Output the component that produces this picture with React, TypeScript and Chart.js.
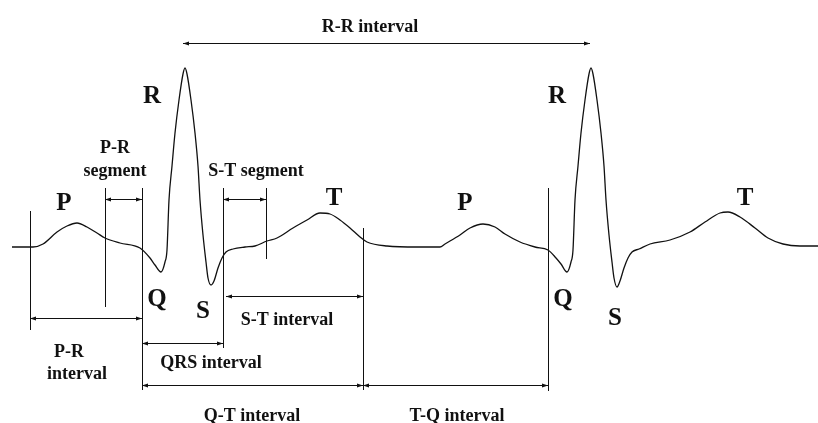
import { useEffect, useRef } from "react";
import { Chart, registerables } from "chart.js";

Chart.register(...registerables);

// ECG trace: time (arbitrary units) and amplitude (arbitrary units, 0 = baseline)
const traceTime = [
  12, 33, 43, 57, 67, 77, 87, 97, 105, 120, 140, 150, 155, 161, 165, 167, 169, 172, 175, 179, 183, 185, 187, 191, 195, 198, 200, 203, 206, 208, 211, 214, 218, 222, 226, 233, 245, 255, 267, 277, 293, 307, 320, 330, 340, 350, 360, 367, 387, 417,
  440, 445, 460, 470, 483, 495, 505, 520, 535, 548, 556, 561, 567, 571, 573, 575, 578, 581, 585, 589, 591, 593, 597, 601, 604, 606, 609, 612, 614, 617, 620, 624, 628, 632, 639, 650, 670, 690, 705, 720, 728, 740, 755, 768, 783, 800, 818,
];
const traceAmp = [
  -1, -1, 2, 14, 20, 23, 19, 13, 8, 3, -2, -12, -19, -26, -16, -4, 46, 80, 113, 146, 172, 178, 172, 146, 113, 80, 46, 11, -16, -32, -39, -35, -22, -12, -6, -3, -1, 0, 5, 8, 18, 26, 33, 32, 26, 18, 9, 4, 0, -1,
  -1, 2, 11, 18, 22, 19, 12, 4, -1, -4, -12, -18, -26, -16, -4, 46, 80, 113, 146, 172, 178, 172, 146, 113, 80, 46, 11, -16, -32, -41, -35, -22, -12, -6, -3, 2, 6, 14, 24, 33, 34, 29, 18, 8, 2, 0, 0,
];

// vertical guide lines: time, top and bottom amplitude
const guideTime = [30, 105, 142, 223, 266, 363, 548];
const guideTop = [35, 58, 58, 58, 58, 18, 58];
const guideBottom = [-84, -61, -144, -102, -13, -144, -145];

// interval arrows: start time, end time, amplitude level
const arrowStart = [183, 105, 223, 226, 30, 142, 142, 363];
const arrowEnd = [590, 142, 266, 363, 142, 223, 363, 548];
const arrowLevel = [203, 47, 47, -50, -72, -97, -139, -139];

// labels: text, centre time, baseline amplitude, kind (wave letter or note)
const labelText = [
  "R-R interval", "R", "P-R", "segment", "P", "S-T segment", "T", "Q", "S", "S-T interval",
  "P-R", "interval", "QRS interval", "Q-T interval", "T-Q interval", "R", "P", "T", "Q", "S",
];
const labelTime = [370, 152, 115, 115, 64, 256, 334, 157, 203, 287, 69, 77, 211, 252, 457, 557, 465, 745, 563, 615];
const labelAmp = [214, 143, 93, 70, 36, 70, 41, -60, -72, -79, -111, -133, -122, -175, -175, 143, 36, 41, -60, -79];
const labelWave = [false, true, false, false, true, false, true, true, true, false, false, false, false, false, false, true, true, true, true, true];

const annotations = {
  id: "ecgAnnotations",
  afterDatasetsDraw(chart: any) {
    const { ctx, scales } = chart;
    const xs = scales.x;
    const ys = scales.y;
    ctx.save();
    ctx.strokeStyle = "#111";
    ctx.fillStyle = "#111";
    ctx.lineWidth = 1;
    for (let i = 0; i < guideTime.length; i++) {
      const x = Math.round(xs.getPixelForValue(guideTime[i])) + 0.5;
      ctx.beginPath();
      ctx.moveTo(x, ys.getPixelForValue(guideTop[i]));
      ctx.lineTo(x, ys.getPixelForValue(guideBottom[i]));
      ctx.stroke();
    }
    for (let i = 0; i < arrowStart.length; i++) {
      const x1 = xs.getPixelForValue(arrowStart[i]);
      const x2 = xs.getPixelForValue(arrowEnd[i]);
      const y = Math.round(ys.getPixelForValue(arrowLevel[i])) + 0.5;
      ctx.beginPath();
      ctx.moveTo(x1, y);
      ctx.lineTo(x2, y);
      ctx.stroke();
      const head = 6;
      ctx.beginPath();
      ctx.moveTo(x1, y);
      ctx.lineTo(x1 + head, y - 2);
      ctx.lineTo(x1 + head, y + 2);
      ctx.closePath();
      ctx.fill();
      ctx.beginPath();
      ctx.moveTo(x2, y);
      ctx.lineTo(x2 - head, y - 2);
      ctx.lineTo(x2 - head, y + 2);
      ctx.closePath();
      ctx.fill();
    }
    ctx.textAlign = "center";
    ctx.textBaseline = "alphabetic";
    for (let i = 0; i < labelText.length; i++) {
      ctx.font = labelWave[i]
        ? "bold 25px 'Liberation Serif', serif"
        : "bold 18px 'Liberation Serif', serif";
      ctx.fillText(labelText[i], xs.getPixelForValue(labelTime[i]), ys.getPixelForValue(labelAmp[i]));
    }
    ctx.restore();
  },
};

export default function App() {
  const ref = useRef<HTMLCanvasElement>(null);
  useEffect(() => {
    document.body.style.margin = "0";
    const canvas = ref.current;
    if (!canvas) return;
    const chart = new Chart(canvas, {
      type: "line",
      data: {
        datasets: [
          {
            data: traceTime.map((t, i) => ({ x: t, y: traceAmp[i] })),
            borderColor: "#111",
            borderWidth: 1.3,
            pointRadius: 0,
            fill: false,
            cubicInterpolationMode: "monotone",
          },
        ],
      },
      options: {
        responsive: false,
        animation: false,
        layout: { padding: 0 },
        plugins: { legend: { display: false }, tooltip: { enabled: false } },
        scales: {
          x: { type: "linear", min: 0, max: 818, display: false },
          y: { min: -177, max: 246, display: false },
        },
      },
      plugins: [annotations],
    });
    return () => chart.destroy();
  }, []);
  return (
    <div style={{ width: 818, height: 423, background: "#fff" }}>
      <canvas ref={ref} width={818} height={423} />
    </div>
  );
}
